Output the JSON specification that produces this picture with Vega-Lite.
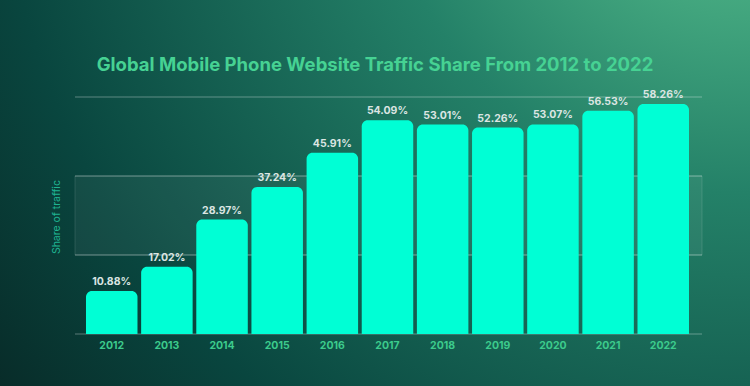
{
  "$schema": "https://vega.github.io/schema/vega-lite/v6.json",
  "width": 750,
  "height": 386,
  "autosize": "none",
  "padding": 0,
  "background": "#071a1a",
  "config": {"view": {"stroke": null}},
  "title": {
    "text": "Global Mobile Phone Website Traffic Share From 2012 to 2022",
    "font": "Inter",
    "fontSize": 18.5,
    "fontWeight": "bold",
    "color": "#46d293",
    "anchor": "middle",
    "offset": -74
  },
  "data": {
    "values": [
      {"year": 2012, "share": 10.88, "label": "10.88%"},
      {"year": 2013, "share": 17.02, "label": "17.02%"},
      {"year": 2014, "share": 28.97, "label": "28.97%"},
      {"year": 2015, "share": 37.24, "label": "37.24%"},
      {"year": 2016, "share": 45.91, "label": "45.91%"},
      {"year": 2017, "share": 54.09, "label": "54.09%"},
      {"year": 2018, "share": 53.01, "label": "53.01%"},
      {"year": 2019, "share": 52.26, "label": "52.26%"},
      {"year": 2020, "share": 53.07, "label": "53.07%"},
      {"year": 2021, "share": 56.53, "label": "56.53%"},
      {"year": 2022, "share": 58.26, "label": "58.26%"}
    ]
  },
  "layer": [
    {
      "data": {"values": [{}]},
      "mark": {
        "type": "rect",
        "fill": {
          "gradient": "radial",
          "x1": 1, "y1": 0, "r1": 0,
          "x2": 1, "y2": 0, "r2": 1.45,
          "stops": [
            {"offset": 0, "color": "#62cc95"},
            {"offset": 0.345, "color": "#248168"},
            {"offset": 0.69, "color": "#09463f"},
            {"offset": 1, "color": "#071818"}
          ]
        }
      },
      "encoding": {
        "x": {"value": 0},
        "x2": {"value": "width"},
        "y": {"value": 0},
        "y2": {"value": "height"}
      }
    },
    {
      "data": {"values": [{}]},
      "mark": {"type": "rect", "fill": "#ffffff", "fillOpacity": 0.05, "stroke": "#ffffff", "strokeOpacity": 0.12, "strokeWidth": 1},
      "encoding": {
        "x": {"datum": 2011.334, "type": "quantitative", "scale": {"domain": [2009.974, 2023.573], "nice": false, "zero": false, "padding": 0}, "axis": null},
        "x2": {"datum": 2022.703},
        "y": {"datum": 20, "type": "quantitative", "scale": {"domain": [-13.16, 84.56], "nice": false, "zero": false, "padding": 0}, "axis": null},
        "y2": {"datum": 40}
      }
    },
    {
      "data": {"values": [{"v": 0}, {"v": 20}, {"v": 40}, {"v": 60}]},
      "mark": {"type": "rule", "stroke": "#ffffff", "strokeOpacity": 0.22, "strokeWidth": 1.5},
      "encoding": {
        "x": {"datum": 2011.334, "type": "quantitative", "scale": {"domain": [2009.974, 2023.573], "nice": false, "zero": false, "padding": 0}, "axis": null},
        "x2": {"datum": 2022.703},
        "y": {"field": "v", "type": "quantitative", "scale": {"domain": [-13.16, 84.56], "nice": false, "zero": false, "padding": 0}, "axis": null}
      }
    },
    {
      "mark": {"type": "bar", "width": 51.5, "color": "#00ffd5", "cornerRadiusTopLeft": 6, "cornerRadiusTopRight": 6},
      "encoding": {
        "x": {"field": "year", "type": "quantitative", "scale": {"domain": [2009.974, 2023.573], "nice": false, "zero": false, "padding": 0}, "axis": null},
        "y": {"field": "share", "type": "quantitative", "scale": {"domain": [-13.16, 84.56], "nice": false, "zero": false, "padding": 0}, "axis": null},
        "y2": {"datum": 0}
      }
    },
    {
      "mark": {"type": "text", "font": "Inter", "fontSize": 10.5, "fontWeight": "bold", "color": "#dbe5e2", "baseline": "bottom", "dy": -4},
      "encoding": {
        "x": {"field": "year", "type": "quantitative"},
        "y": {"field": "share", "type": "quantitative"},
        "text": {"field": "label"}
      }
    },
    {
      "mark": {"type": "text", "font": "Inter", "fontSize": 10.5, "fontWeight": "bold", "color": "#3ccb8c", "baseline": "top", "dy": 7},
      "encoding": {
        "x": {"field": "year", "type": "quantitative"},
        "y": {"datum": 0, "type": "quantitative"},
        "text": {"field": "year", "type": "quantitative", "format": "d"}
      }
    },
    {
      "data": {"values": [{"t": "Share of traffic"}]},
      "mark": {"type": "text", "font": "Inter", "fontSize": 10.5, "fontWeight": "normal", "color": "#1fb391", "angle": 270, "align": "center", "baseline": "middle"},
      "encoding": {
        "x": {"datum": 2011.0, "type": "quantitative"},
        "y": {"datum": 29.6, "type": "quantitative"},
        "text": {"field": "t"}
      }
    }
  ]
}
